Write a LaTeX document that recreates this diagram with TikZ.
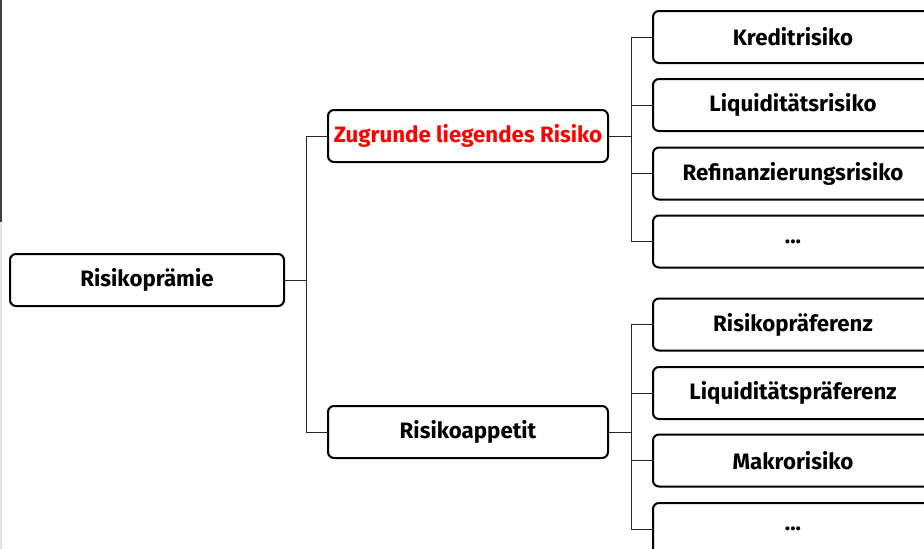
\documentclass[tikz,border=0pt]{standalone}
\usepackage{fontspec}
\setmainfont{Fira Sans}
\begin{document}
\begin{tikzpicture}[x=1pt, y=-1pt, line width=1pt,
  box/.style={draw, line width=2pt, rounded corners=6pt, minimum width=280pt, minimum height=52pt, inner sep=0pt, font=\fontsize{22.3}{25}\selectfont\bfseries},
  link/.style={line width=1pt, black!85}]
\useasboundingbox (0,0) rectangle (924,549);
\fill [black!75] (0,0) rectangle (2,222);
\fill [black!12] (0,222) rectangle (2,549);
\node [box, minimum width=274pt] (root) at (147, 280) {Risikoprämie};
\node [box, text=red] (zug) at (468, 136) {Zugrunde liegendes Risiko};
\node [box] (app) at (468, 432) {Risikoappetit};
\node [box] (kred) at (793, 37) {Kreditrisiko};
\node [box] (liq) at (793, 105) {Liquiditätsrisiko};
\node [box] (refi) at (793, 173.5) {Refinanzierungsrisiko};
\node [box] (dotsa) at (793, 241.5) {...};
\node [box] (rpref) at (793, 324.5) {Risikopräferenz};
\node [box] (lpref) at (793, 393) {Liquiditätspräferenz};
\node [box] (makro) at (793, 460.5) {Makrorisiko};
\node [box] (dotsb) at (793, 529) {...};
\coordinate (ja) at (306, 280);
\coordinate (jb) at (631, 136);
\coordinate (jc) at (631, 432);
\draw [link] (root.east)--(ja) |- (zug.west);
\draw [link] (ja) |- (app.west);
\draw [link] (zug.east)--(jb);
\foreach \n in {kred, liq, refi, dotsa} \draw [link] (jb) |- (\n.west);
\draw [link] (app.east)--(jc);
\foreach \n in {rpref, lpref, makro, dotsb} \draw [link] (jc) |- (\n.west);
\end{tikzpicture}
\end{document}
